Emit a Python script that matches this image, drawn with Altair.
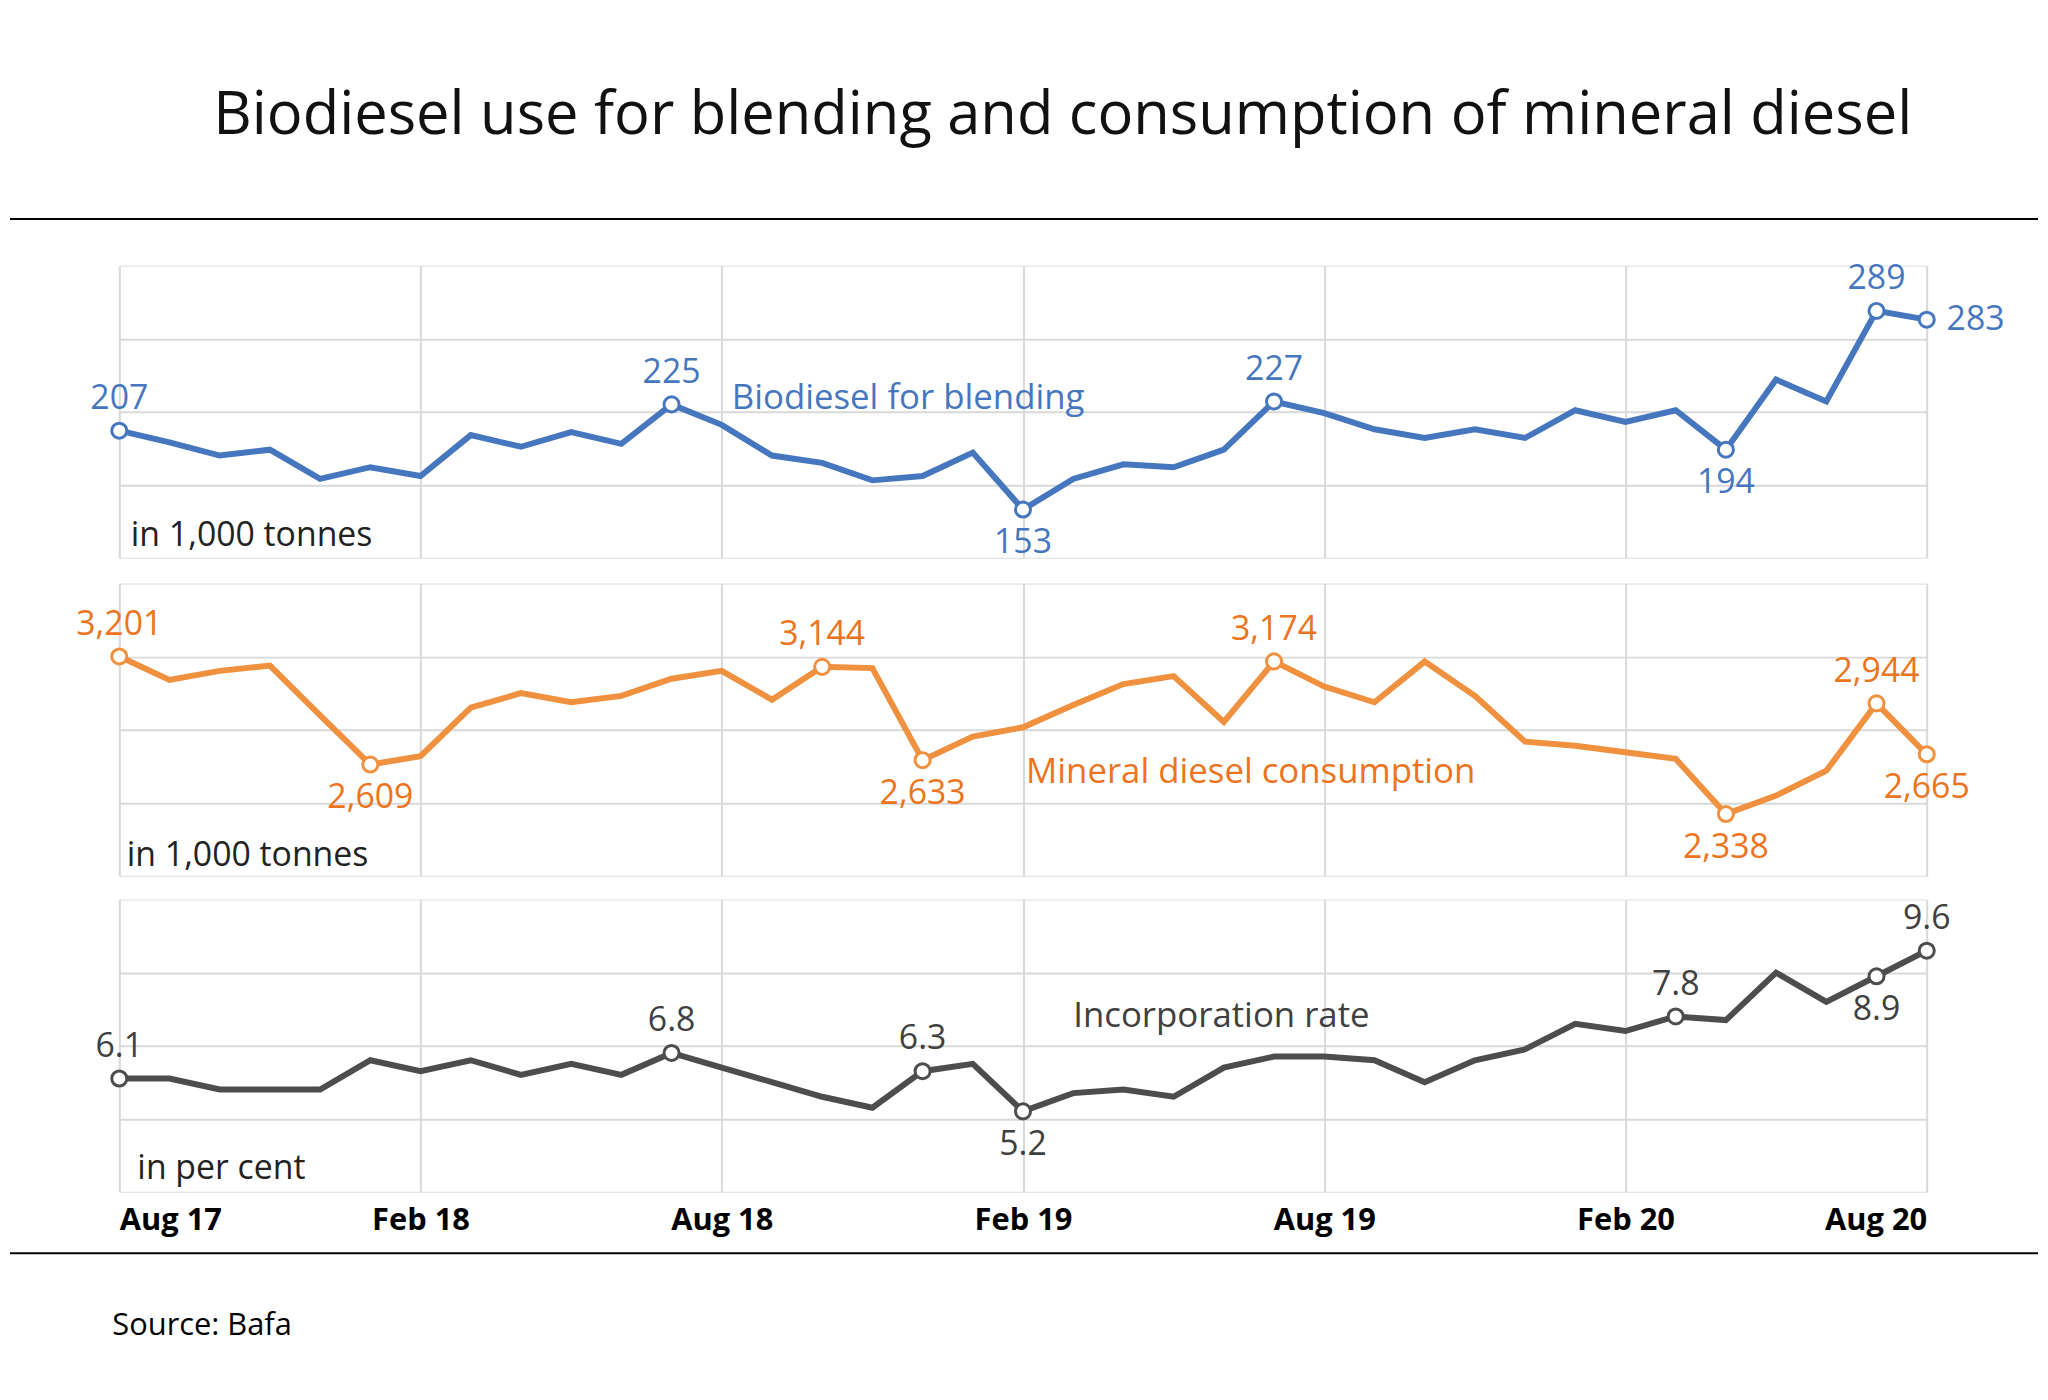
import altair as alt
import pandas as pd

months = ["Aug 17", "Feb 18", "Aug 18", "Feb 19", "Aug 19", "Feb 20", "Aug 20"]

biodiesel = [207, 199, 190, 194, 174, 182, 176, 204, 196, 206, 198, 225, 211, 190, 185, 173,
             176, 192, 153, 174, 184, 182, 194, 227, 219, 208, 202, 208, 202, 221, 213, 221,
             194, 242, 227, 289, 283]
mineral = [3201, 3072, 3122, 3151, 2878, 2609, 2655, 2921, 3000, 2950, 2985, 3079, 3122, 2964,
           3144, 3137, 2633, 2762, 2813, 2935, 3050, 3093, 2842, 3174, 3036, 2950, 3173, 2985,
           2734, 2712, 2676, 2640, 2338, 2439, 2575, 2944, 2665]
rate = [6.1, 6.1, 5.8, 5.8, 5.8, 6.6, 6.3, 6.6, 6.2, 6.5, 6.2, 6.8, 6.4, 6.0, 5.6, 5.3, 6.3,
        6.5, 5.2, 5.7, 5.8, 5.6, 6.4, 6.7, 6.7, 6.6, 6.0, 6.6, 6.9, 7.6, 7.4, 7.8, 7.7, 9.0,
        8.2, 8.9, 9.6]

# labelled points: index, text, where the label sits (a=above, b=below, r=right)
bio_marks = [(0, "207", "a"), (11, "225", "a"), (18, "153", "b"), (23, "227", "a"),
             (32, "194", "b"), (35, "289", "a"), (36, "283", "r")]
min_marks = [(0, "3,201", "a"), (5, "2,609", "b"), (14, "3,144", "a"), (16, "2,633", "b"),
             (23, "3,174", "a"), (32, "2,338", "b"), (35, "2,944", "a"), (36, "2,665", "b")]
rate_marks = [(0, "6.1", "a"), (11, "6.8", "a"), (16, "6.3", "a"), (18, "5.2", "b"),
              (31, "7.8", "a"), (35, "8.9", "b"), (36, "9.6", "a")]

FONT = "Open Sans"
W, H = 1819, 294
label_expr = "{0:'Aug 17',6:'Feb 18',12:'Aug 18',18:'Feb 19',24:'Aug 19',30:'Feb 20',36:'Aug 20'}[datum.value]"


def panel(values, marks, domain, grid, line_col, text_col, name, name_pos, unit, unit_pos,
          bottom=False):
    df = pd.DataFrame({"i": list(range(len(values))), "v": values})
    pts = pd.DataFrame({"i": [m[0] for m in marks], "v": [values[m[0]] for m in marks],
                        "t": [m[1] for m in marks], "p": [m[2] for m in marks]})
    x = alt.X("i:Q", scale=alt.Scale(domain=[0, 36], nice=False),
              axis=alt.Axis(values=[0, 6, 12, 18, 24, 30, 36], labelExpr=label_expr,
                            title=None, grid=True, gridColor="#d9d9d9", gridWidth=2,
                            domain=False, ticks=False, labels=bottom,
                            labelFont=FONT, labelFontSize=31, labelFontWeight="bold",
                            labelColor="#000", labelPadding=14))
    y = alt.Y("v:Q", scale=alt.Scale(domain=domain, nice=False),
              axis=alt.Axis(values=grid, grid=True, gridColor="#d9d9d9", gridWidth=2,
                            labels=False, ticks=False, domain=False, title=None))
    base = alt.Chart(df).encode(x=x, y=y)
    line = base.mark_line(color=line_col, strokeWidth=6)
    pbase = alt.Chart(pts).encode(x=alt.X("i:Q"), y=alt.Y("v:Q"))
    dots = pbase.mark_point(shape="circle", size=230, filled=True, fill="white",
                            stroke=line_col, strokeWidth=3, opacity=1)
    tkw = dict(font=FONT, fontSize=34, color=text_col)
    above = pbase.transform_filter("datum.p=='a'").mark_text(dy=-32, **tkw).encode(text="t:N")
    below = pbase.transform_filter("datum.p=='b'").mark_text(dy=34, **tkw).encode(text="t:N")
    right = pbase.transform_filter("datum.p=='r'").mark_text(dx=20, align="left", **tkw).encode(text="t:N")
    nm = alt.Chart(pd.DataFrame({"i": [name_pos[0]], "v": [name_pos[1]], "t": [name]})).mark_text(
        align="left", font=FONT, fontSize=35, color=text_col).encode(x="i:Q", y="v:Q", text="t:N")
    un = alt.Chart(pd.DataFrame({"i": [unit_pos[0]], "v": [unit_pos[1]], "t": [unit]})).mark_text(
        align="left", font=FONT, fontSize=34, color="#222").encode(x="i:Q", y="v:Q", text="t:N")
    return alt.layer(line, dots, above, below, right, nm, un).properties(width=W, height=H)


p1 = panel(biodiesel, bio_marks, [120, 320], [170, 220, 270], "#4677BE", "#4677BE",
           "Biodiesel for blending", (12.2, 229), "in 1,000  tonnes", (0.23, 135))
top_rule = alt.Chart(pd.DataFrame({"a": [0]})).mark_rule(color="black", strokeWidth=2).encode(
    x=alt.value(-110), x2=alt.value(W + 112), y=alt.value(-47))
# invisible spacer so the page keeps the reference's top margin
spacer = alt.Chart(pd.DataFrame({"a": [0]})).mark_rule(strokeOpacity=0, color="white").encode(
    x=alt.value(0), y=alt.value(-254), y2=alt.value(-200))
title = alt.Chart(pd.DataFrame({"t": ["Biodiesel use for blending and consumption  of mineral  diesel"]})).mark_text(
    font=FONT, fontSize=60, color="#111").encode(x=alt.value(W / 2 + 40), y=alt.value(-150), text="t:N")
p1 = alt.layer(p1, top_rule, spacer, title)

p2 = panel(mineral, min_marks, [2000, 3600], [2400, 2800, 3200], "#F0913F", "#EC7420",
           "Mineral diesel consumption", (18.06, 2568), "in 1,000  tonnes", (0.15, 2108))

p3 = panel(rate, rate_marks, [3, 11], [5, 7, 9], "#4D4D4D", "#404040",
           "Incorporation rate", (19.0, 7.8), "in per cent", (0.36, 3.62), bottom=True)
bot_rule = alt.Chart(pd.DataFrame({"a": [0]})).mark_rule(color="black", strokeWidth=2).encode(
    x=alt.value(-110), x2=alt.value(W + 112), y=alt.value(H + 62))
source = alt.Chart(pd.DataFrame({"t": ["Source:  Bafa"]})).mark_text(
    align="left", font=FONT, fontSize=31, color="#000").encode(
    x=alt.value(-7), y=alt.value(H + 135), text="t:N")
p3 = alt.layer(p3, bot_rule, source)

chart = alt.vconcat(p1, p2, p3, spacing=22).properties(
    padding=0
).configure_view(stroke="#d9d9d9", strokeWidth=2).configure(background="white")

chart.save("out.html", embed_options={"renderer": "svg", "actions": False})
